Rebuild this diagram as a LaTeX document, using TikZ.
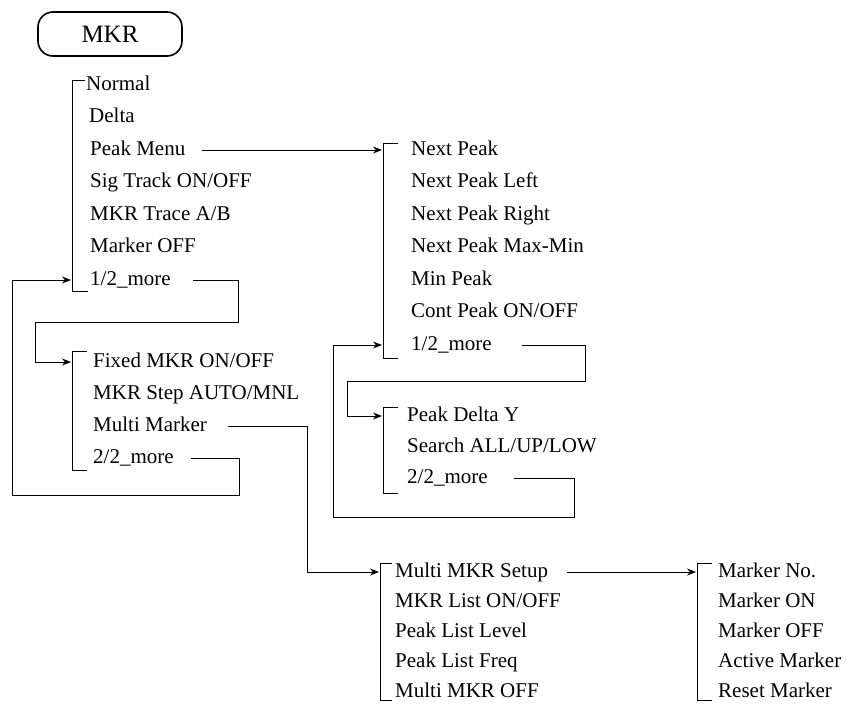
\documentclass[tikz,border=0pt]{standalone}
\usepackage{fontspec}
\setmainfont{Liberation Serif}
\usetikzlibrary{arrows.meta}
\begin{document}
\begin{tikzpicture}[x=1pt,y=-1pt,
  item/.style={anchor=west, inner sep=0pt, text height=14pt, text depth=4pt, font=\fontsize{21}{25}\selectfont},
  arr/.style={line width=1pt, -{Stealth[length=9pt,width=7pt]}},
  brk/.style={line width=1pt}]
\useasboundingbox (0,0) rectangle (847,707);

% title box
\node[draw, line width=1.6pt, rounded corners=15pt, minimum width=144pt, minimum height=44pt,
      inner sep=0pt, font=\fontsize{25}{29}\selectfont] (mkr) at (110,34) {MKR\hspace{16pt}};

% menu 1
\node[item] (a1) at (86,85) {Normal};
\node[item] (a2) at (89,117.5) {Delta};
\node[item] (a3) at (90,150) {Peak Menu};
\node[item] (a4) at (90,182.5) {Sig Track ON/OFF};
\node[item] (a5) at (90,215) {MKR Trace A/B};
\node[item] (a6) at (90,247.5) {Marker OFF};
\node[item] (a7) at (90,280) {1/2\_more};
\draw[brk] (85,80) -| (72,291) -- (88,291);

% menu 1b
\node[item] (b1) at (93,362) {Fixed MKR ON/OFF};
\node[item] (b2) at (93,394) {MKR Step AUTO/MNL};
\node[item] (b3) at (93,426) {Multi Marker};
\node[item] (b4) at (93,458) {2/2\_more};
\draw[brk] (87,351) -| (72,470) -- (87,470);

% menu 2
\node[item] (c1) at (411,150) {Next Peak};
\node[item] (c2) at (411,182.5) {Next Peak Left};
\node[item] (c3) at (411,215) {Next Peak Right};
\node[item] (c4) at (411,247.5) {Next Peak Max-Min};
\node[item] (c5) at (411,280) {Min Peak};
\node[item] (c6) at (411,312.5) {Cont Peak ON/OFF};
\node[item] (c7) at (411,345) {1/2\_more};
\draw[brk] (398,143) -| (383,358) -- (398,358);

% menu 3
\node[item] (d1) at (407,416) {Peak Delta Y};
\node[item] (d2) at (407,447) {Search ALL/UP/LOW};
\node[item] (d3) at (407,478) {2/2\_more};
\draw[brk] (398,407) -| (383,493) -- (398,493);

% menu 4
\node[item] (e1) at (395,572) {Multi MKR Setup};
\node[item] (e2) at (395,602) {MKR List ON/OFF};
\node[item] (e3) at (395,632) {Peak List Level};
\node[item] (e4) at (395,662) {Peak List Freq};
\node[item] (e5) at (395,692) {Multi MKR OFF};
\draw[brk] (392,563) -| (380,700) -- (392,700);

% menu 5
\node[item] (g1) at (718,572) {Marker No.};
\node[item] (g2) at (718,602) {Marker ON};
\node[item] (g3) at (718,632) {Marker OFF};
\node[item] (g4) at (718,662) {Active Marker};
\node[item] (g5) at (718,692) {Reset Marker};
\draw[brk] (712,563) -| (697,700) -- (712,700);

% named corners / ends
\coordinate (pA) at (382,150);
\coordinate (k1) at (238,322);
\coordinate (k2) at (35,362);
\coordinate (fA) at (71,362);
\coordinate (k3) at (239,495);
\coordinate (k4) at (12,280);
\coordinate (nA) at (71,280);
\coordinate (k5) at (307,572);
\coordinate (mA) at (379,572);
\coordinate (k6) at (585,381);
\coordinate (k7) at (347,416);
\coordinate (dA) at (382,416);
\coordinate (k8) at (574,517);
\coordinate (k9) at (333,345);
\coordinate (cA) at (382,345);
\coordinate (gA) at (696,572);

% connectors
\draw[arr] ([xshift=17pt]a3.east) -- (pA);
\draw[arr] ([xshift=22pt]a7.east) -| (k1) -| (k2) -- (fA);
\draw[arr] ([xshift=17pt]b4.east) -| (k3) -| (k4) -- (nA);
\draw[arr] ([xshift=21pt]b3.east) -| (k5) -- (mA);
\draw[arr] ([xshift=30pt]c7.east) -| (k6) -| (k7) -- (dA);
\draw[arr] ([xshift=26pt]d3.east) -| (k8) -| (k9) -- (cA);
\draw[arr] ([xshift=19pt]e1.east) -- (gA);
\end{tikzpicture}
\end{document}
